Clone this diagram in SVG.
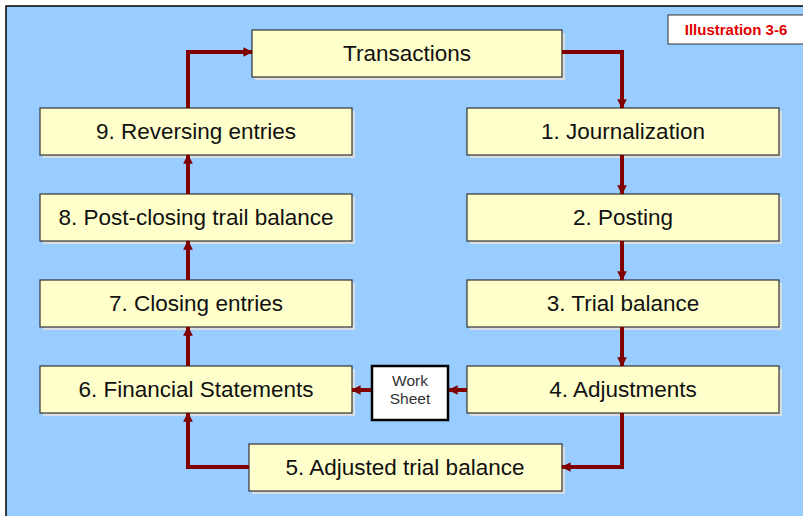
<svg xmlns="http://www.w3.org/2000/svg" width="803" height="516" viewBox="0 0 803 516">
<defs>
<style>
.box{fill:#FFFFCC;stroke:#333333;stroke-width:1.2}
.sh{fill:#D8DDE0}
.t{font-family:"Liberation Sans",Arial,sans-serif;font-size:22.5px;fill:#111;text-anchor:middle;dominant-baseline:central}
.c{fill:none;stroke:#800000;stroke-width:4;marker-end:url(#ah)}
</style>
<marker id="ah" viewBox="0 0 10 10" refX="9" refY="5" markerWidth="2.4" markerHeight="2.4" orient="auto" markerUnits="strokeWidth">
<path d="M0,0 L10,5 L0,10 z" fill="#800000"/>
</marker>
</defs>
<rect width="803" height="516" fill="#FFFFFF"/>
<rect x="6" y="6" width="800" height="515" fill="#99CCFF" stroke="#000" stroke-width="1.5"/>
<g id="illustration">
<rect x="668" y="15" width="140" height="29" fill="#FFFFFF" stroke="#333" stroke-width="1"/>
<text x="736" y="29.5" font-family="'Liberation Sans',Arial,sans-serif" font-size="15" font-weight="bold" fill="#E00000" text-anchor="middle" dominant-baseline="central">Illustration 3-6</text>
</g>
<g id="transactions">
<rect class="sh" x="255" y="33" width="310" height="47"/>
<rect class="box" x="252" y="30" width="310" height="47"/>
<text class="t" x="407" y="53.5">Transactions</text>
</g>
<g id="n1">
<rect class="sh" x="470" y="111" width="312" height="47"/>
<rect class="box" x="467" y="108" width="312" height="47"/>
<text class="t" x="623" y="131.5">1. Journalization</text>
</g>
<g id="n2">
<rect class="sh" x="470" y="197" width="312" height="47"/>
<rect class="box" x="467" y="194" width="312" height="47"/>
<text class="t" x="623" y="217.5">2. Posting</text>
</g>
<g id="n3">
<rect class="sh" x="470" y="283" width="312" height="47"/>
<rect class="box" x="467" y="280" width="312" height="47"/>
<text class="t" x="623" y="303.5">3. Trial balance</text>
</g>
<g id="n4">
<rect class="sh" x="470" y="369" width="312" height="47"/>
<rect class="box" x="467" y="366" width="312" height="47"/>
<text class="t" x="623" y="389.5">4. Adjustments</text>
</g>
<g id="n5">
<rect class="sh" x="252" y="447" width="313" height="47"/>
<rect class="box" x="249" y="444" width="313" height="47"/>
<text class="t" x="405" y="467.5">5. Adjusted trial balance</text>
</g>
<g id="n6">
<rect class="sh" x="43" y="369" width="312" height="47"/>
<rect class="box" x="40" y="366" width="312" height="47"/>
<text class="t" x="196" y="389.5">6. Financial Statements</text>
</g>
<g id="n7">
<rect class="sh" x="43" y="283" width="312" height="47"/>
<rect class="box" x="40" y="280" width="312" height="47"/>
<text class="t" x="196" y="303.5">7. Closing entries</text>
</g>
<g id="n8">
<rect class="sh" x="43" y="197" width="312" height="47"/>
<rect class="box" x="40" y="194" width="312" height="47"/>
<text class="t" x="196" y="217.5">8. Post-closing trail balance</text>
</g>
<g id="n9">
<rect class="sh" x="43" y="111" width="312" height="47"/>
<rect class="box" x="40" y="108" width="312" height="47"/>
<text class="t" x="196" y="131.5">9. Reversing entries</text>
</g>
<g id="worksheet">
<rect x="372" y="366" width="76" height="54" fill="#FFFFFF" stroke="#000" stroke-width="2.5"/>
<text x="410" y="380" font-family="'Liberation Sans',Arial,sans-serif" font-size="15.5" fill="#333" text-anchor="middle" dominant-baseline="central">Work</text>
<text x="410" y="398" font-family="'Liberation Sans',Arial,sans-serif" font-size="15.5" fill="#333" text-anchor="middle" dominant-baseline="central">Sheet</text>
</g>
<g id="connectors">
<path class="c" d="M562,52 H622 V108"/>
<path class="c" d="M622,155 V194"/>
<path class="c" d="M622,241 V280"/>
<path class="c" d="M622,327 V366"/>
<path class="c" d="M622,413 V467 H562"/>
<path class="c" d="M249,467 H188 V413"/>
<path class="c" d="M188,366 V327"/>
<path class="c" d="M188,280 V241"/>
<path class="c" d="M188,194 V155"/>
<path class="c" d="M188,108 V52 H252"/>
<path class="c" d="M467,390 H449"/>
<path class="c" d="M371,390 H352"/>
</g>
</svg>
